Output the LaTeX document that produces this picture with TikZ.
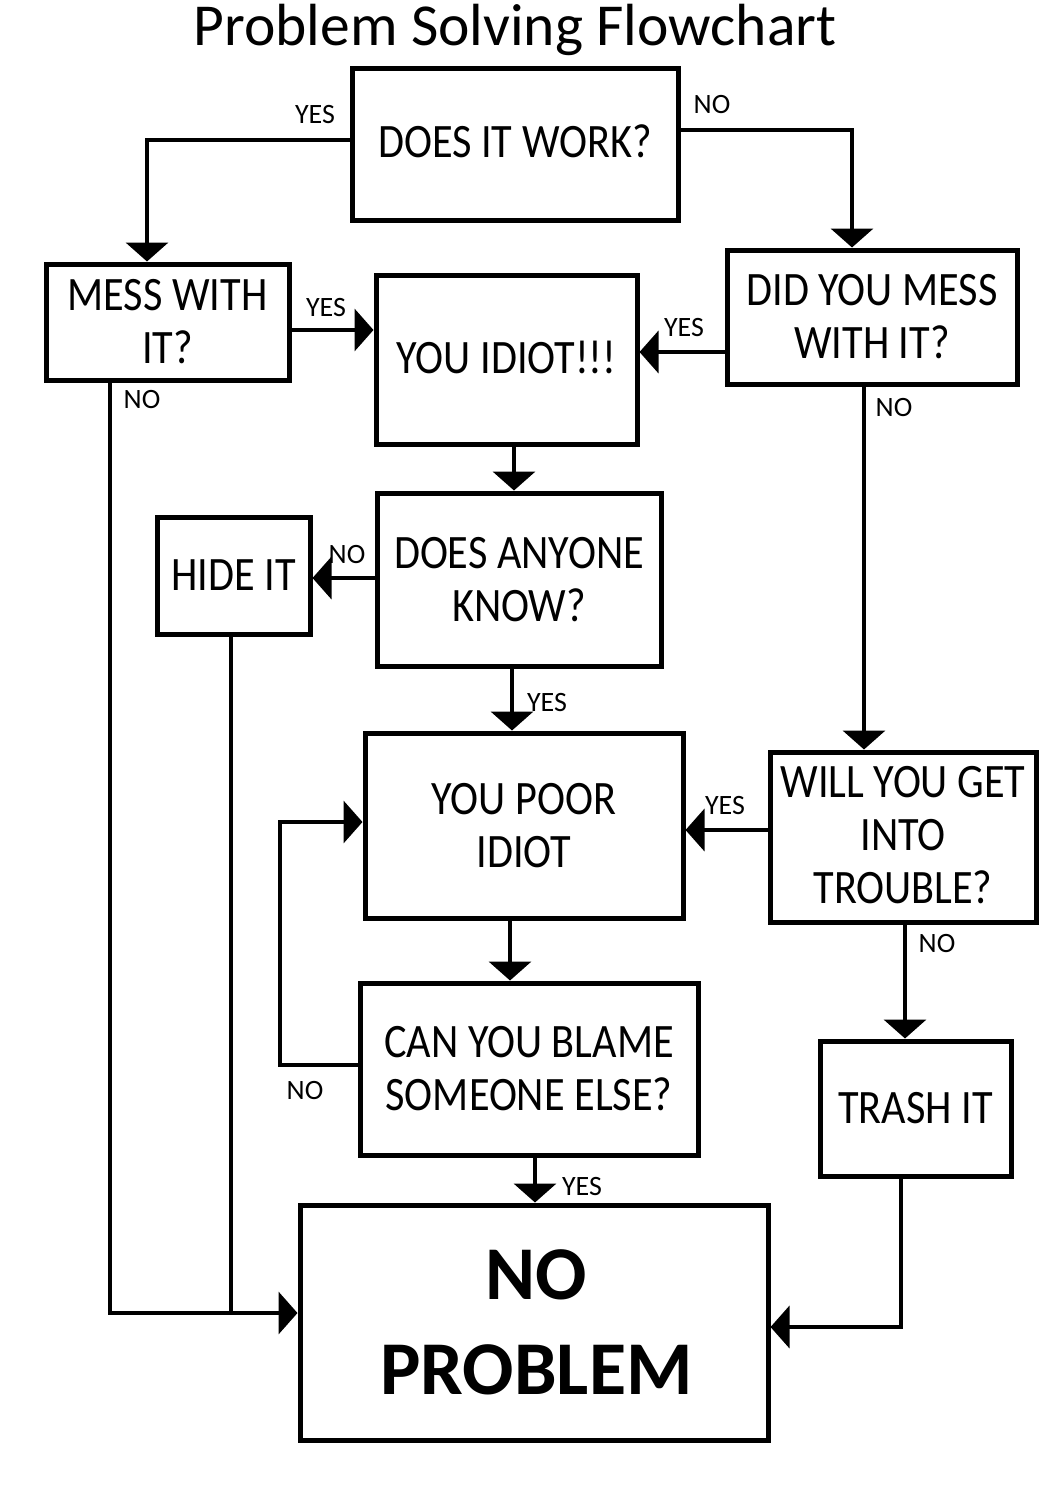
\documentclass[tikz,border=0pt]{standalone}
\usepackage{fontspec}
\usepackage{graphicx}
\setmainfont{Carlito}
\usetikzlibrary{arrows.meta}
\newcommand\sqz[1]{\scalebox{0.88}[1]{#1}}
\tikzset{
  box/.style={draw, line width=5pt, inner sep=0pt, align=center,
    font=\fontsize{48}{53}\selectfont},
  lbl/.style={inner sep=0pt, font=\fontsize{28}{30}\selectfont},
  arr/.style={line width=4pt, -{Triangle[width=42pt,length=19pt]}},
  ln/.style={line width=4pt},
}
\begin{document}
\begin{tikzpicture}[x=1pt,y=-1pt]
\useasboundingbox[fill=white] (0,0) rectangle (1062,1502);
% title
\node[inner sep=0pt, anchor=base, font=\fontsize{59.5}{62}\selectfont] (title) at (515,45) {Problem Solving Flowchart};
% boxes
\node[box, minimum width=326pt, minimum height=152pt] (w) at (515,144) {\raisebox{6pt}{\sqz{DOES IT WORK?}}};
\node[box, minimum width=243pt, minimum height=116pt] (m) at (167.5,322) {\sqz{MESS WITH}\\\sqz{IT?}};
\node[box, minimum width=261pt, minimum height=169pt] (i) at (506.5,359.5) {\raisebox{5pt}{\sqz{YOU IDIOT!!!}}};
\node[box, minimum width=290pt, minimum height=134pt] (d) at (872,317) {\sqz{DID YOU MESS}\\\sqz{WITH IT?}};
\node[box, minimum width=153pt, minimum height=117pt] (h) at (233.5,575.5) {\sqz{HIDE IT}};
\node[box, minimum width=284pt, minimum height=173pt] (k) at (519,579.5) {\sqz{DOES ANYONE}\\\sqz{KNOW?}};
\node[box, minimum width=318pt, minimum height=185pt] (p) at (524,825.5) {\sqz{YOU POOR}\\\sqz{IDIOT}};
\node[box, minimum width=266pt, minimum height=170pt] (t) at (903,837) {\raisebox{4pt}{\sqz{WILL YOU GET}}\\\raisebox{4pt}{\sqz{INTO}}\\\raisebox{4pt}{\sqz{TROUBLE?}}};
\node[box, minimum width=338pt, minimum height=172pt] (b) at (529,1069) {\sqz{CAN YOU BLAME}\\\sqz{SOMEONE ELSE?}};
\node[box, minimum width=191pt, minimum height=135pt] (r) at (915.5,1108.5) {\sqz{TRASH IT}};
\node[box, minimum width=468pt, minimum height=235pt, font=\fontsize{76}{95}\selectfont\bfseries] (n) at (534,1322.5) {\hspace*{5pt}NO\\\hspace*{5pt}PROBLEM};
% connector points
\coordinate (c1) at ([yshift=4pt]w.west);
\coordinate (e1) at ([xshift=-20.5pt]m.north);
\coordinate (c2) at ([yshift=14pt]w.east);
\coordinate (e2) at ([xshift=-20pt]d.north);
\coordinate (c3) at ([yshift=-8pt]m.east);
\coordinate (c4) at ([yshift=-35pt]d.west);
\coordinate (c5) at ([xshift=-57.5pt]m.south);
\coordinate (n5) at ([yshift=9.5pt]n.west);
\coordinate (c6) at ([xshift=7.5pt]i.south);
\coordinate (c7) at ([yshift=1.5pt]k.west);
\coordinate (c8) at ([xshift=-2.5pt]h.south);
\coordinate (c9) at ([xshift=-7pt]k.south);
\coordinate (c10) at ([xshift=-8pt]d.south);
\coordinate (c11) at ([yshift=7pt]t.west);
\coordinate (c12) at ([xshift=2pt]t.south);
\coordinate (c13) at ([xshift=-14pt]p.south);
\coordinate (c14) at ([yshift=4pt]b.west);
\coordinate (e14) at ([yshift=3.5pt]p.west);
\coordinate (c15) at ([xshift=6pt]b.south);
\coordinate (c16) at ([xshift=-14.5pt]r.south);
\coordinate (n16) at ([yshift=-4.5pt]n.east);
% connectors
\draw[arr] (c1) -| (e1);
\draw[arr] (c2) -| (e2);
\draw[arr] (c3) -- (c3 -| i.west);
\draw[arr] (c4) -- (c4 -| i.east);
\draw[arr] (c5) |- (n5);
\draw[arr] (c6) -- (c6 |- k.north);
\draw[arr] (c7) -- (c7 -| h.east);
\draw[ln] (c8) -- (c8 |- n5);
\draw[arr] (c9) -- (c9 |- p.north);
\draw[arr] (c10) -- (c10 |- t.north);
\draw[arr] (c11) -- (c11 -| p.east);
\draw[arr] (c12) -- (c12 |- r.north);
\draw[arr] (c13) -- (c13 |- b.north);
\draw[arr] (c14) -- ++(-78pt,0) |- (e14);
\draw[arr] (c15) -- (c15 |- n.north);
\draw[arr] (c16) |- (n16);
% labels
\node[lbl] (l1) at (315,115) {YES};
\node[lbl] (l2) at (712,105) {NO};
\node[lbl] (l3) at (326,308) {YES};
\node[lbl] (l4) at (684,328) {YES};
\node[lbl] (l5) at (142,400) {NO};
\node[lbl] (l6) at (347,555) {NO};
\node[lbl] (l7) at (547,703) {YES};
\node[lbl] (l8) at (894,408) {NO};
\node[lbl] (l9) at (725,805) {YES};
\node[lbl] (l10) at (937,943) {NO};
\node[lbl] (l11) at (305,1090) {NO};
\node[lbl] (l12) at (582,1186) {YES};
\end{tikzpicture}
\end{document}
